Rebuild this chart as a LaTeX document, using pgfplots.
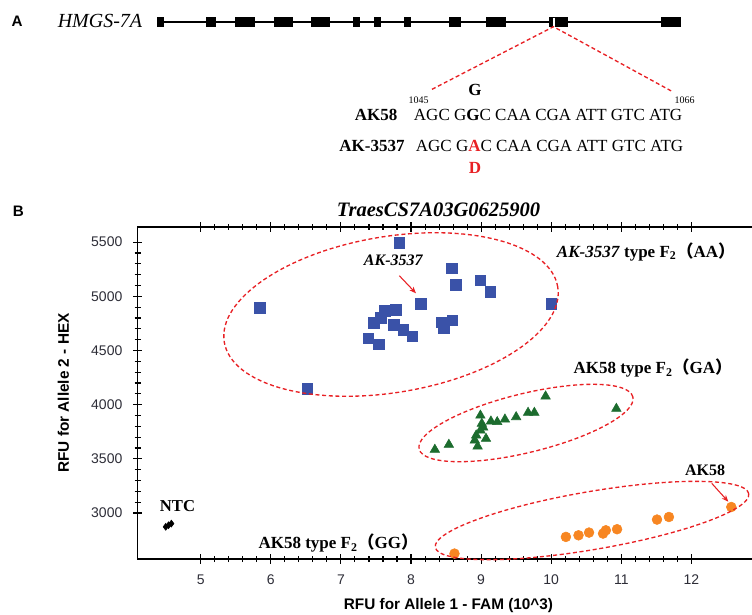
\documentclass[border=0pt]{standalone}
\usepackage{fontspec}
\setmainfont{Liberation Serif}
\setsansfont{Liberation Sans}
\newfontfamily\cjk{Noto Sans CJK SC}
\usepackage{pgfplots}
\usepackage{pgfplotstable}
\pgfplotsset{compat=1.18}
\usetikzlibrary{arrows.meta}
\definecolor{sqblue}{RGB}{58,82,168}
\definecolor{trigreen}{RGB}{28,108,46}
\definecolor{dotorange}{RGB}{247,134,34}
\definecolor{annred}{RGB}{232,32,36}
\definecolor{tickcol}{RGB}{45,45,55}

\pgfplotstableread{
x y
5.84 4893
6.52 4145
7.39 4614
7.54 4556
7.47 4758
7.57 4805
7.63 4866
7.78 4876
7.75 4738
7.89 4692
8.02 4630
7.83 5495
8.14 4930
8.44 4762
8.47 4712
8.59 4780
8.58 5260
8.64 5107
8.99 5147
9.13 5045
10.00 4932
}\aatable

\pgfplotstableread{
x y
8.34 3585
8.54 3631
8.95 3615
9.07 3686
8.93 3717
8.91 3671
8.99 3763
9.01 3825
8.99 3900
9.03 3790
9.14 3846
9.23 3840
9.34 3864
9.50 3886
9.67 3926
9.76 3926
9.92 4077
10.93 3963
}\gatable

\pgfplotstableread{
x y
8.62 2625
10.21 2779
10.39 2794
10.54 2819
10.74 2810
10.78 2840
10.94 2850
11.51 2939
11.68 2963
12.57 3055
}\ggtable

\pgfplotstableread{
x y
4.50 2872
4.54 2887
4.58 2902
}\ntctable

\begin{document}
\begin{tikzpicture}
\begin{axis}[
  at={(103.28pt,-419.25pt)}, anchor=south west,
  scale only axis, width=467.8pt, height=249pt,
  xmin=4.1, xmax=13, ymin=2575, ymax=5640,
  xtick={5,6,...,12}, ytick={3000,3500,...,5500},
  minor x tick num=4, minor y tick num=4,
  tick align=center,
  major tick length=7pt, minor tick length=4.5pt,
  axis line style={line width=1.1pt},
  every tick/.style={black, line width=0.8pt},
  ticklabel style={font=\sffamily\fontsize{10.5}{12}\selectfont, text=tickcol},
  xticklabel style={yshift=-5pt},
  yticklabel style={xshift=-4.5pt},
  /pgf/number format/assume math mode=true,
  /pgf/number format/set thousands separator={},
]
\addplot[only marks, mark=square*, mark size=4pt, color=sqblue] table {\aatable};
\addplot[only marks, mark=triangle*, mark size=4.1pt, color=trigreen] table {\gatable};
\addplot[only marks, mark=*, mark size=3.7pt, color=dotorange] table {\ggtable};
\addplot[only marks, mark=diamond*, mark size=2.6pt, color=black] table {\ntctable};
\end{axis}

\begin{scope}[x=0.75pt,y=-0.75pt]
% ---------- panel A ----------
\node[font=\sffamily\bfseries\fontsize{11.4}{12}\selectfont] at (17,21) {A};
\node[font=\itshape\fontsize{15}{16}\selectfont] at (100,21) {HMGS-7A};
\draw[line width=1.1pt] (157,22) -- (681,22);
\foreach \a/\b in {157/164, 206/215.5, 235/254.6, 274/293, 311/330, 352.5/359.7, 373.7/381.4, 404/411.4, 449/461, 486/506, 548.7/568, 660.6/680.8}
  \fill (\a,17) rectangle (\b,27);
\draw[white, line width=1.1pt] (553.8,17.5) -- (553.8,26.5);
\draw[annred, line width=1pt, dash pattern=on 3pt off 2pt] (432,89.3) -- (553.5,26.7) -- (672.6,91.7);
\node[font=\bfseries\fontsize{12.75}{14}\selectfont] at (475,89.5) {G};
\node[font=\fontsize{7.5}{8}\selectfont] at (418.5,100) {1045};
\node[font=\fontsize{7.5}{8}\selectfont] at (684.6,100) {1066};
\node[font=\bfseries\fontsize{12.75}{14}\selectfont] at (376,114.5) {AK58};
\node[font=\fontsize{12.75}{14}\selectfont, anchor=west, inner sep=0pt] at (413.7,114.5) {AGC G\textbf{G}C CAA CGA ATT GTC ATG};
\node[font=\bfseries\fontsize{12.75}{14}\selectfont] at (372,145.5) {AK-3537};
\node[font=\fontsize{12.75}{14}\selectfont, anchor=west, inner sep=0pt] at (415.6,145.5) {AGC G\textbf{\textcolor{annred}{A}}C CAA CGA ATT GTC ATG};
\node[font=\bfseries\fontsize{12.75}{14}\selectfont, text=annred] at (475,168) {D};

% ---------- panel B annotations ----------
\node[font=\sffamily\bfseries\fontsize{11.4}{12}\selectfont] at (18.3,211.7) {B};
\node[font=\bfseries\itshape\fontsize{15.4}{16}\selectfont] at (438.5,210) {TraesCS7A03G0625900};
\node[font=\sffamily\bfseries\fontsize{11.5}{12}\selectfont, rotate=90] at (63.3,393) {RFU for Allele 2 - HEX};
\node[font=\sffamily\bfseries\fontsize{11.5}{12}\selectfont] at (448.5,606) {RFU for Allele 1 - FAM (10\textasciicircum3)};

\draw[annred, line width=1pt, dash pattern=on 3pt off 2pt, rotate around={9.4:(391,314.5)}] (391,314.5) ellipse [x radius=126.75pt, y radius=58.5pt];
\draw[annred, line width=1pt, dash pattern=on 3pt off 2pt, rotate around={13.7:(526,423)}] (526,423) ellipse [x radius=82.5pt, y radius=22.1pt];
\draw[annred, line width=1pt, dash pattern=on 3pt off 2pt, rotate around={9.7:(592,520.5)}] (592,520.5) ellipse [x radius=119.25pt, y radius=21.75pt];

\node[font=\bfseries\fontsize{12.75}{14}\selectfont, anchor=west, inner sep=0pt] at (556.7,251.7) {\textit{AK-3537} type F\textsubscript{2}{\cjk（}AA{\cjk）}};
\node[font=\bfseries\fontsize{12.75}{14}\selectfont, anchor=west, inner sep=0pt] at (573.3,368.3) {AK58 type F\textsubscript{2}{\cjk（}GA{\cjk）}};
\node[font=\bfseries\fontsize{12.75}{14}\selectfont, anchor=west, inner sep=0pt] at (258.3,543.3) {AK58 type F\textsubscript{2}{\cjk（}GG{\cjk）}};
\node[font=\bfseries\fontsize{12.5}{14}\selectfont] at (177.5,506) {NTC};
\node[font=\bfseries\fontsize{12}{14}\selectfont] at (705,470) {AK58};
\node[font=\bfseries\itshape\fontsize{12}{14}\selectfont] at (393.3,260) {AK-3537};
\draw[annred, line width=0.8pt, -{Stealth[length=5pt,width=4pt]}] (399.3,275.7) -- (416,293.3);
\draw[annred, line width=0.8pt, -{Stealth[length=5pt,width=4pt]}] (711.7,483.3) -- (728.3,501.7);
\end{scope}

\pgfresetboundingbox
\path[use as bounding box] (0,0) rectangle (564pt,-460.5pt);
\end{tikzpicture}
\end{document}
